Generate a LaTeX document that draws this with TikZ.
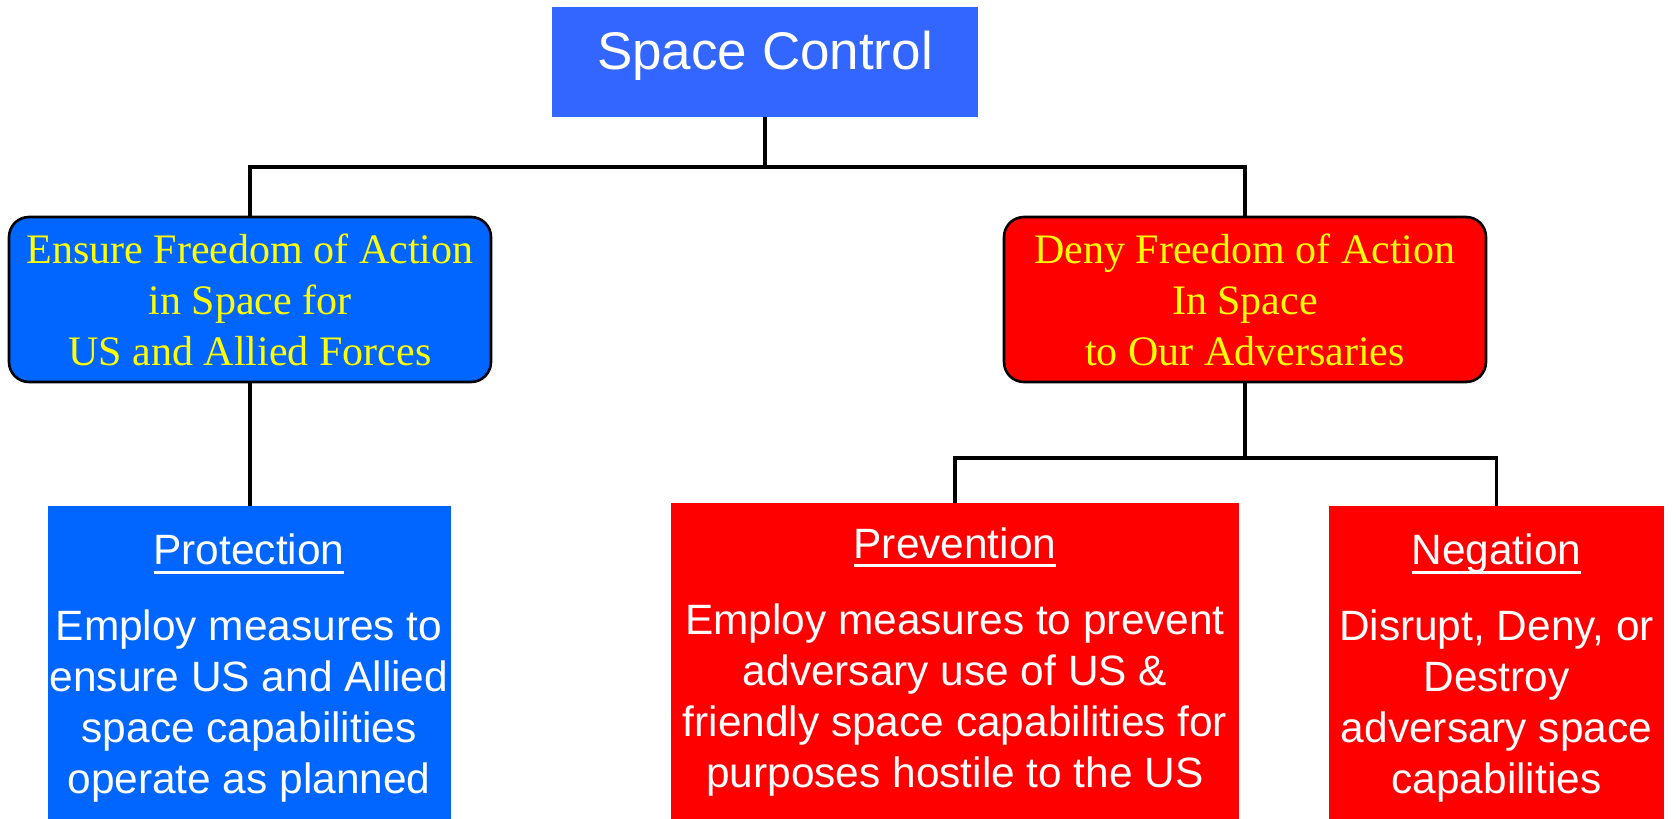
\documentclass[tikz,border=0pt]{standalone}
\usepackage{fontspec}
\newfontfamily\arialfont{Liberation Sans}
\newfontfamily\timesfont{Liberation Serif}

\definecolor{topblue}{RGB}{51,102,255}
\definecolor{boxblue}{RGB}{0,102,255}
\definecolor{boxred}{RGB}{255,0,0}
\definecolor{txtyellow}{RGB}{255,255,0}

\newcommand{\headline}[1]{\vtop{\hbox{\raisebox{0pt}[\height][0pt]{#1}}\kern3pt\hrule height1.5pt}}

\tikzset{
	topbox/.style={fill=topblue, text=white, font=\arialfont\fontsize{26.5}{30}\selectfont,
		minimum width=213pt, minimum height=55pt, inner sep=0pt, text height=19pt, text depth=12pt},
	goalbox/.style={draw=black, line width=1.3pt, rounded corners=10pt, text=txtyellow,
		font=\timesfont\fontsize{21}{25.5}\selectfont, align=center,
		minimum width=241pt, minimum height=82.5pt, inner sep=0pt},
	taskbox/.style={text=white, font=\arialfont\fontsize{21.2}{25.5}\selectfont, align=center,
		inner sep=0pt, anchor=north},
	link/.style={line width=1.7pt}
}

\begin{document}
\begin{tikzpicture}[x=0.5pt,y=-0.5pt]
			
			\useasboundingbox (0,0) rectangle (1676,819);
			
			% Top box
			\node[topbox] (control) at (765,62) {Space Control};
			
			% Second level
			\node[goalbox, fill=boxblue] (ensure) at (250,299.5) {Ensure Freedom of Action\\in Space for\\US and Allied Forces};
			\node[goalbox, fill=boxred] (deny) at (1245,299.5) {Deny Freedom of Action\\In Space\\to Our Adversaries};
			
			% Third level
			\node[taskbox, fill=boxblue, minimum width=201.5pt, minimum height=162pt] (protect) at (249,506)
				{\headline{Protection}\\[12.5pt]Employ measures to\\ensure US and Allied\\space capabilities\\operate as planned};
			\node[taskbox, fill=boxred, minimum width=284pt, minimum height=158.5pt] (prevent) at (955,503)
				{\headline{Prevention}\\[12.5pt]Employ measures to prevent\\adversary use of US \&\\friendly space capabilities for\\purposes hostile to the US};
			\node[taskbox, fill=boxred, minimum width=167.5pt, minimum height=162pt] (negate) at (1496.5,506)
				{\headline{Negation}\\[12.5pt]Disrupt, Deny, or\\Destroy\\adversary space\\capabilities};
			
			% Connectors
			\coordinate (split) at (765,167);
			\draw[link] (control.south) -- (split);
			\draw[link] (ensure.north) |- (split) -| (deny.north);
			\draw[link] (ensure.south) -- (ensure.south |- protect.north);
			
			\coordinate (fork) at (1245,458);
			\draw[link] (deny.south) -- (fork);
			\draw[link] (prevent.north) |- (fork) -| (negate.north);
		\end{tikzpicture}
\end{document}
